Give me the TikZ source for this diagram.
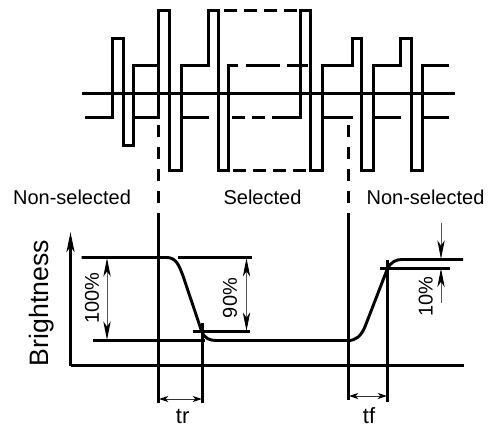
\documentclass[tikz,border=0pt]{standalone}
\usepackage{fontspec}
\setmainfont{Liberation Sans}
\usetikzlibrary{arrows.meta}

\begin{document}
\begin{tikzpicture}[x=0.75pt,y=-0.75pt,line join=miter,
  wave/.style={line width=2.2pt},
  wave dash/.style={wave,dash pattern=on 9.75pt off 5.25pt},
  cut/.style={line width=2.2pt},
  long tip/.style={>={Stealth[length=14pt,width=5.5pt,inset=4pt,black]}},
  short tip/.style={>={Stealth[length=7pt,width=4.5pt,inset=2pt,black]}},
  dim/.style={<->,long tip,line width=0.75pt,black!65},
  dim short/.style={<->,short tip,line width=0.75pt,black!80},
  dim in/.style={->,long tip,line width=0.75pt,black!65},
  label node/.style={font=\fontsize{15}{18}\selectfont,inner sep=0pt}]
  \useasboundingbox (0,0) rectangle (491,428);

  % drive waveforms
  \draw[line width=1.9pt] (82,93.5) -- (455,93.5);
  \draw[wave] (85,117.5) -- (112.5,117.5) -- (112.5,38.5) -- (123.5,38.5) -- (123.5,145.5) -- (133.5,145.5) -- (133.5,65.5) -- (158.5,65.5);
  \draw[wave] (133.5,117.5) -- (158.5,117.5) -- (158.5,10.5) -- (169.5,10.5) -- (169.5,170.5) -- (181.5,170.5) -- (181.5,65.5)
     -- (208.5,65.5) -- (208.5,10.5) -- (218.5,10.5) -- (218.5,170.5) -- (228.5,170.5) -- (228.5,65.5) -- (238,65.5);
  \draw[wave] (181.5,117.5) -- (208.5,117.5);
  \draw[wave] (272,117.5) -- (300.5,117.5) -- (300.5,10.5) -- (310.5,10.5) -- (310.5,170.5) -- (322.5,170.5) -- (322.5,65.5)
     -- (352.5,65.5) -- (352.5,38.5) -- (361.5,38.5) -- (361.5,170.5) -- (373.5,170.5) -- (373.5,65.5)
     -- (400.5,65.5) -- (400.5,38.5) -- (411.5,38.5) -- (411.5,170.5) -- (422.5,170.5) -- (422.5,65.5) -- (449,65.5);
  \draw[wave] (322.5,117.5) -- (352.5,117.5);
  \draw[wave] (373.5,117.5) -- (400.5,117.5);
  \draw[wave] (422.5,117.5) -- (449,117.5);

  % selected part
  \draw[wave dash] (224,10.5) -- (300,10.5);
  \draw[wave] (246,65.5) -- (280,65.5);
  \draw[wave] (287,65.5) -- (308,65.5);
  \draw[wave dash] (232,117.5) -- (272,117.5);
  \draw[wave dash] (233,170.5) -- (310.5,170.5);

  % limits
  \draw[cut,dash pattern=on 9pt off 7.5pt] (158.5,125) -- (158.5,205);
  \draw[cut,dash pattern=on 9pt off 7.5pt] (348.5,125) -- (348.5,205);
  \draw[cut] (158.5,213) -- (158.5,403);
  \draw[cut] (348.5,213) -- (348.5,400);
  \draw[cut] (202.5,323) -- (202.5,403);
  \draw[cut] (387.5,260) -- (387.5,402);

  % brightness curve
  \draw[wave,-{Stealth[length=15pt,width=6pt,inset=4pt]}] (70.5,365.5) -- (70.5,232);
  \draw[wave] (70.5,365.5) -- (464,365.5);
  \draw[wave] (81.7,257.5) -- (166.7,257.5) .. controls (176,257.5) and (179,265) .. (183.3,276.7)
     -- (201.7,331.5) .. controls (205,339) and (210,340.5) .. (216.7,340.5) -- (348,340.5)
     .. controls (356,340.5) and (361,336) .. (365,326.7) -- (387.5,268.5)
     .. controls (391,262) and (396,259.5) .. (401.7,259.5) -- (463,259.5);
  \draw[wave] (92.7,340.5) -- (205,340.5);
  \draw[wave] (178,257.5) -- (251.7,257.5);
  \draw[wave] (193,331.5) -- (250,331.5);
  \draw[wave] (380,268.5) -- (450,268.5);

  \coordinate (full top) at (107,258);
  \coordinate (full low) at (107,340);
  \coordinate (part top) at (246.5,258);
  \coordinate (part low) at (246.5,331);
  \coordinate (tr left) at (159,399);
  \coordinate (tr right) at (202,399);
  \coordinate (tf left) at (349,396);
  \coordinate (tf right) at (387,396);
  \coordinate (ten above) at (441,223);
  \coordinate (ten top) at (441,259);
  \coordinate (ten below) at (441,302.7);
  \coordinate (ten low) at (441,268.5);

  \path (full top) edge[dim] (full low)
        (part top) edge[dim] (part low)
        (tr left) edge[dim short] (tr right)
        (tf left) edge[dim short] (tf right)
        (ten above) edge[dim in] (ten top)
        (ten below) edge[dim in] (ten low);

  \node[label node] (left) at (72,197) {Non-selected};
  \node[label node] (mid) at (262.5,197) {Selected};
  \node[label node] (right) at (425.5,197) {Non-selected};
  \node[label node,font=\fontsize{20}{24}\selectfont,rotate=90] (bright) at (41.7,303) {Brightness};
  \node[label node,rotate=90] (full) at (92,298) {100\%};
  \node[label node,rotate=90] (part) at (230,298) {90\%};
  \node[label node,rotate=90] (ten) at (425.7,296.7) {10\%};
  \node[label node,font=\fontsize{16.5}{20}\selectfont] (tr) at (182.7,416.5) {tr};
  \node[label node,font=\fontsize{16.5}{20}\selectfont] (tf) at (369,416) {tf};
\end{tikzpicture}
\end{document}
